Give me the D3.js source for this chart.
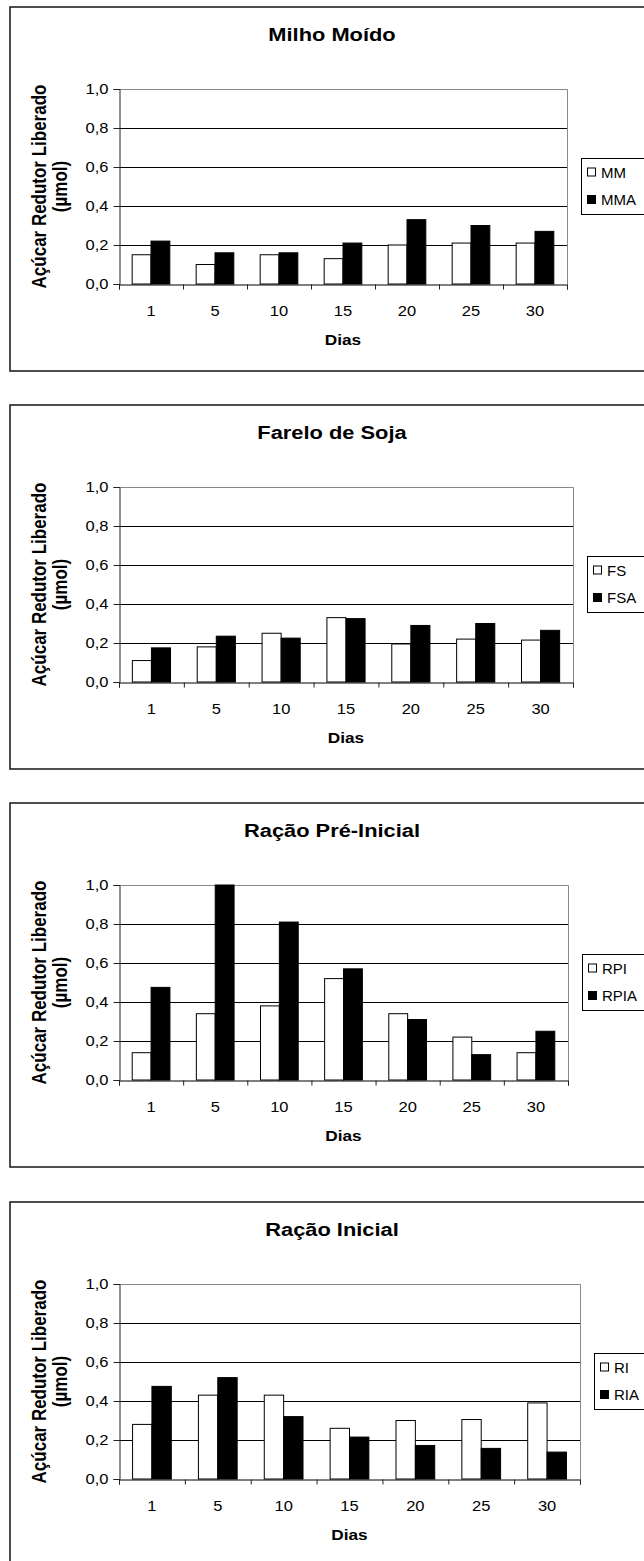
<!DOCTYPE html>
<html>
<head>
<meta charset="utf-8">
<script src="https://cdn.jsdelivr.net/npm/d3@7"></script>
<style>
  html, body { margin: 0; padding: 0; background: #fff; }
  svg { display: block; font-family: "Liberation Sans", Arial, sans-serif; }
</style>
</head>
<body>
<svg id="chart" width="644" height="1561"></svg>
<script>
// ---- data ----
const categories = ["1", "5", "10", "15", "20", "25", "30"];
const yTicks = [0, 0.2, 0.4, 0.6, 0.8, 1.0];
const yTickLabels = ["0,0", "0,2", "0,4", "0,6", "0,8", "1,0"];

const titles = ["Milho Moído", "Farelo de Soja", "Ração Pré-Inicial", "Ração Inicial"];
const seriesNames = [["MM", "MMA"], ["FS", "FSA"], ["RPI", "RPIA"], ["RI", "RIA"]];

const mm   = [0.15, 0.10, 0.15, 0.13, 0.20, 0.21, 0.21];
const mma  = [0.22, 0.16, 0.16, 0.21, 0.33, 0.30, 0.27];
const fs   = [0.11, 0.18, 0.25, 0.33, 0.195, 0.22, 0.215];
const fsa  = [0.175, 0.235, 0.225, 0.325, 0.29, 0.30, 0.265];
const rpi  = [0.14, 0.34, 0.38, 0.52, 0.34, 0.22, 0.14];
const rpia = [0.475, 1.0, 0.81, 0.57, 0.31, 0.13, 0.25];
const ri   = [0.28, 0.43, 0.43, 0.26, 0.30, 0.305, 0.39];
const ria  = [0.475, 0.52, 0.32, 0.215, 0.172, 0.157, 0.138];

const seriesValues = [[mm, mma], [fs, fsa], [rpi, rpia], [ri, ria]];

const xTitle = "Dias";
const yTitle1 = "Açúcar Redutor Liberado";
const yTitle2 = "(µmol)";

// ---- layout ----
const chartTops = [7, 405, 803, 1202];
const plotRights = [567, 573, 568, 580];
const plotLeft = 119;
const SX = 1.15; // horizontal glyph stretch seen in the reference

const svg = d3.select("#chart");
svg.append("rect").attr("width", 644).attr("height", 1561).attr("fill", "#fff");

function stretchedText(g, x, y, txt, opts) {
  const sx = opts.sx || SX;
  return g.append("text")
    .attr("transform", `translate(${x},${y}) scale(${sx},1)` + (opts.rotate ? " rotate(-90)" : ""))
    .attr("text-anchor", opts.anchor || "start")
    .attr("font-size", opts.size)
    .attr("font-weight", opts.bold ? "bold" : "normal")
    .attr("fill", "#000")
    .text(txt);
}

titles.forEach((title, ci) => {
  const T = chartTops[ci];
  const R = plotRights[ci];
  const g = svg.append("g");

  // outer chart box
  g.append("rect")
    .attr("x", 10).attr("y", T)
    .attr("width", 720).attr("height", 364)
    .attr("fill", "none").attr("stroke", "#222").attr("stroke-width", 1.6);

  const x = d3.scaleBand().domain(categories).range([plotLeft, R]).padding(0);
  const y = d3.scaleLinear().domain([0, 1]).range([T + 277, T + 82]);
  const bw = x.bandwidth();
  const w = bw / 3.4;
  const inner = d3.scaleBand().domain([0, 1]).range([bw / 2 - w, bw / 2 + w]).padding(0);

  // gridlines
  g.append("g").selectAll("line")
    .data(yTicks.filter(t => t > 0 && t < 1))
    .join("line")
    .attr("x1", plotLeft).attr("x2", R)
    .attr("y1", d => Math.round(y(d)) + 0.5).attr("y2", d => Math.round(y(d)) + 0.5)
    .attr("stroke", "#000").attr("stroke-width", 1);

  // plot border (top/right) gray
  g.append("path")
    .attr("d", `M${plotLeft},${Math.round(y(1)) + 0.5}H${R + 0.5}V${Math.round(y(0)) + 0.5}`)
    .attr("fill", "none").attr("stroke", "#888").attr("stroke-width", 1);

  // bars
  const vals = seriesValues[ci];
  vals.forEach((arr, si) => {
    g.append("g").selectAll("rect")
      .data(arr)
      .join("rect")
      .attr("x", (d, i) => x(categories[i]) + inner(si))
      .attr("y", d => y(d))
      .attr("width", inner.bandwidth())
      .attr("height", d => y(0) - y(d))
      .attr("fill", si === 0 ? "#fff" : "#000")
      .attr("stroke", "#000").attr("stroke-width", 1);
  });

  // y axis
  const ya = g.append("g")
    .attr("transform", `translate(${plotLeft + 0.5},0)`)
    .call(d3.axisLeft(y).tickValues(yTicks).tickSize(6).tickPadding(4)
      .tickFormat((d, i) => yTickLabels[i]));
  ya.select(".domain").attr("stroke", "#222");
  ya.selectAll(".tick line").attr("stroke", "#222");
  ya.selectAll("text")
    .attr("font-size", 15).attr("font-family", "Liberation Sans, Arial, sans-serif")
    .attr("fill", "#000")
    .attr("transform", `scale(1.1,1)`);

  // x axis: boundary ticks
  const xl = d3.scaleLinear().domain([0, categories.length]).range([plotLeft, R]);
  const xa = g.append("g")
    .attr("transform", `translate(0,${Math.round(y(0)) + 0.5})`)
    .call(d3.axisBottom(xl).tickValues(d3.range(categories.length + 1)).tickSize(5).tickFormat(""));
  xa.select(".domain").attr("stroke", "#000");
  xa.selectAll(".tick line").attr("stroke", "#222");

  // x axis: category labels
  const xb = g.append("g")
    .attr("transform", `translate(0,${Math.round(y(0))})`)
    .call(d3.axisBottom(x).tickSize(0).tickPadding(21));
  xb.select(".domain").remove();
  xb.selectAll("text")
    .attr("font-size", 15).attr("font-family", "Liberation Sans, Arial, sans-serif")
    .attr("fill", "#000")
    .attr("transform", `scale(1.1,1)`);

  // title
  stretchedText(g, 332, T + 27 + 0.358 * 19, title, { size: 19, bold: true, anchor: "middle" });

  // x title
  stretchedText(g, (plotLeft + R) / 2, T + 333 + 0.358 * 15, xTitle, { size: 15, bold: true, anchor: "middle" });

  // y title (two lines, rotated)
  const yc = (y(0) + y(1)) / 2;
  stretchedText(g, 46, yc, yTitle1, { size: 17, bold: true, anchor: "middle", rotate: true });
  stretchedText(g, 67, yc, yTitle2, { size: 17, bold: true, anchor: "middle", rotate: true });

  // legend
  const lx = R + 14;
  const ly = T + 151;
  g.append("rect")
    .attr("x", lx + 0.5).attr("y", ly + 0.5)
    .attr("width", 120).attr("height", 56)
    .attr("fill", "#fff").attr("stroke", "#000").attr("stroke-width", 1);
  const rowY = [T + 165.5, T + 193];
  seriesNames[ci].forEach((name, si) => {
    g.append("rect")
      .attr("x", lx + 6.5).attr("y", rowY[si] - 4.5)
      .attr("width", 8).attr("height", 8)
      .attr("fill", si === 0 ? "#fff" : "#000")
      .attr("stroke", "#000").attr("stroke-width", 1);
    stretchedText(g, lx + 20, rowY[si] + 0.358 * 15, name, { size: 15, sx: 1.0 });
  });
});
</script>
</body>
</html>
